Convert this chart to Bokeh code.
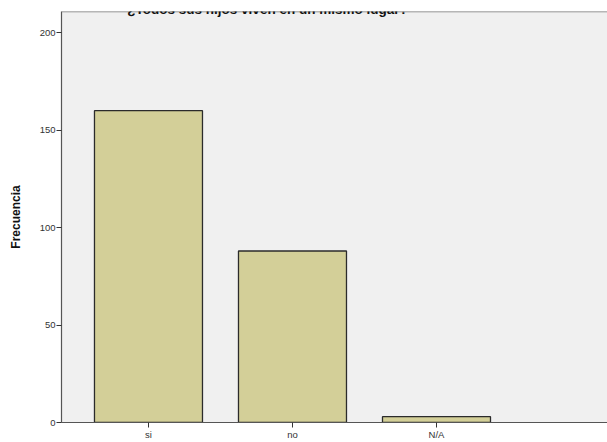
from bokeh.plotting import figure
from bokeh.models import Range1d, FixedTicker, Label, Span
from bokeh.embed import file_html
from bokeh.resources import INLINE

categories = ["si", "no", "N/A"]
frecuencias = [160, 88, 3]
y_ticks = [0, 50, 100, 150, 200]

xs = [i + 0.5 for i in range(len(categories))]

p = figure(width=607, height=442, output_backend="svg", toolbar_location=None,
           x_range=Range1d(-0.104, 3.6875), y_range=Range1d(0, 210.9),
           min_border_left=61, min_border_top=11, min_border_bottom=19, min_border_right=0)
p.background_fill_color = "#F0F0F0"
p.border_fill_color = "white"
p.outline_line_color = None
p.grid.visible = False

p.vbar(x=xs, top=frecuencias, width=0.75, bottom=0,
       fill_color="#D3CF98", line_color="#2B2B2B", line_width=1.3)

p.add_layout(Span(location=210.9, dimension="width", line_color="#777777", line_width=1.5))

p.xaxis.ticker = FixedTicker(ticks=xs)
p.xaxis.major_label_overrides = {x: c for x, c in zip(xs, categories)}
p.yaxis.ticker = FixedTicker(ticks=y_ticks)

for ax in (p.xaxis, p.yaxis):
    ax.axis_line_color = "#555555"
    ax.axis_line_width = 1.2
    ax.major_tick_line_color = "#333333"
    ax.minor_tick_line_color = None
    ax.major_tick_in = 0
    ax.major_tick_out = 5
    ax.major_label_text_font = "Liberation Sans"
    ax.major_label_text_font_size = "9.5px"
    ax.major_label_text_color = "#333333"
    ax.major_label_standoff = 1

p.yaxis.axis_label = "Frecuencia"
p.yaxis.axis_label_text_font = "Liberation Sans"
p.yaxis.axis_label_text_font_style = "bold"
p.yaxis.axis_label_text_font_size = "12px"
p.yaxis.axis_label_text_color = "#111111"
p.yaxis.axis_label_standoff = 14

# screen units are relative to the plot frame (origin bottom-left)
p.add_layout(Label(x=206, y=413, x_units="screen", y_units="screen",
                   text="¿Todos sus hijos viven en un mismo lugar?",
                   text_font="Liberation Sans", text_font_style="bold",
                   text_font_size="13.5px", text_align="center", text_baseline="alphabetic",
                   text_color="#111111"))

open("out.html", "w").write(file_html(p, INLINE))
